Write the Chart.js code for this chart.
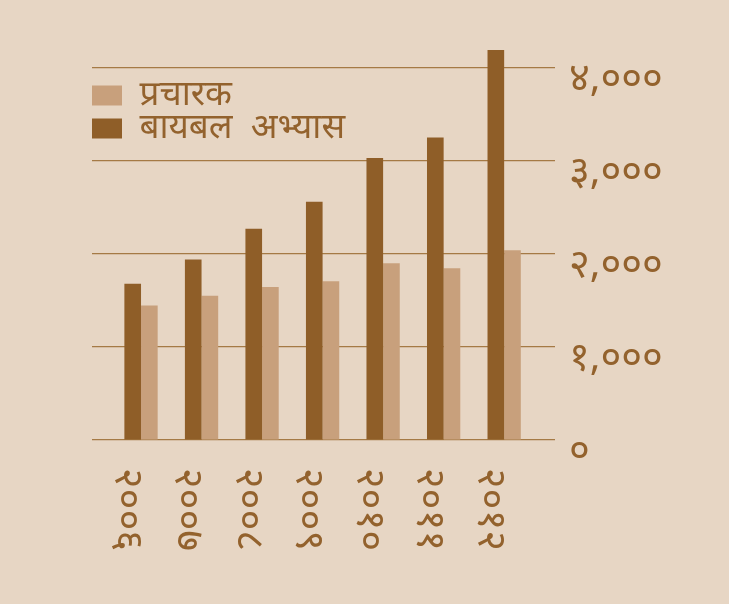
<!DOCTYPE html>
<html>
<head>
<meta charset="utf-8">
<script src="https://cdn.jsdelivr.net/npm/chart.js@4.4.1/dist/chart.umd.min.js"></script>
<style>
  html, body { margin: 0; padding: 0; background: #e7d6c4; }
  #wrap { width: 729px; height: 604px; position: relative; }
</style>
</head>
<body>
<div id="wrap"><canvas id="chart"></canvas></div>
<script>
// Données
const years = ['२००६', '२००७', '२००८', '२००९', '२०१०', '२०११', '२०१२'];
const bibleStudies = [1680, 1940, 2270, 2560, 3030, 3250, 4190];
const publishers = [1445, 1550, 1645, 1705, 1900, 1845, 2040];
const yTickValues = [0, 1000, 2000, 3000, 4000];
const yTickLabels = ['०', '१,०००', '२,०००', '३,०००', '४,०००'];

const darkBrown = '#8f5e28';
const lightBrown = '#c8a07c';
const textColor = '#93622d';
const fontFamily = "'Noto Sans', 'DejaVu Sans', sans-serif";

const ctx = document.getElementById('chart').getContext('2d');

new Chart(ctx, {
    type: 'bar',
    data: {
        datasets: [
            {
                label: 'बायबल  अभ्यास',
                data: bibleStudies.map((v, i) => ({ x: i, y: v })),
                backgroundColor: darkBrown,
                borderWidth: 0
            },
            {
                label: 'प्रचारक',
                data: publishers.map((v, i) => ({ x: i, y: v })),
                backgroundColor: lightBrown,
                borderWidth: 0
            }
        ]
    },
    options: {
        responsive: true,
        maintainAspectRatio: false,
        animation: false,
        layout: { padding: { left: 92, top: 30, right: 0, bottom: 0 } },
        datasets: { bar: { categoryPercentage: 0.55, barPercentage: 1.0 } },
        scales: {
            x: {
                type: 'linear',
                offset: false,
                min: -0.81,
                max: 6.84,
                grid: { display: false, drawTicks: false },
                border: { display: false },
                ticks: {
                    stepSize: 1,
                    includeBounds: false,
                    autoSkip: false,
                    minRotation: -90,
                    maxRotation: -90,
                    padding: 111,
                    labelOffset: -14,
                    color: textColor,
                    font: { family: fontFamily, size: 40 },
                    callback: (v) => years[v]
                },
                afterFit: (scale) => { scale.height = 164; }
            },
            y: {
                position: 'right',
                min: 0,
                max: 4320,
                grid: { color: '#a57a45', lineWidth: 1.2, drawTicks: false },
                border: { display: false },
                afterBuildTicks: (scale) => {
                    scale.ticks = yTickValues.map(v => ({ value: v }));
                },
                ticks: {
                    padding: 14,
                    labelOffset: 12,
                    color: textColor,
                    font: { family: fontFamily, size: 40 },
                    callback: (v) => yTickLabels[yTickValues.indexOf(v)]
                },
                afterFit: (scale) => { scale.width = 174; }
            }
        },
        plugins: {
            legend: {
                position: 'chartArea',
                align: 'start',
                reverse: true,
                title: { display: true, text: '', font: { size: 10, lineHeight: 1 }, padding: { top: 70, bottom: 0 } },
                labels: {
                    boxWidth: 32,
                    boxHeight: 20,
                    padding: -2,
                    color: textColor,
                    font: { family: fontFamily, size: 35 }
                }
            },
            tooltip: { enabled: false }
        }
    }
});
</script>
</body>
</html>
